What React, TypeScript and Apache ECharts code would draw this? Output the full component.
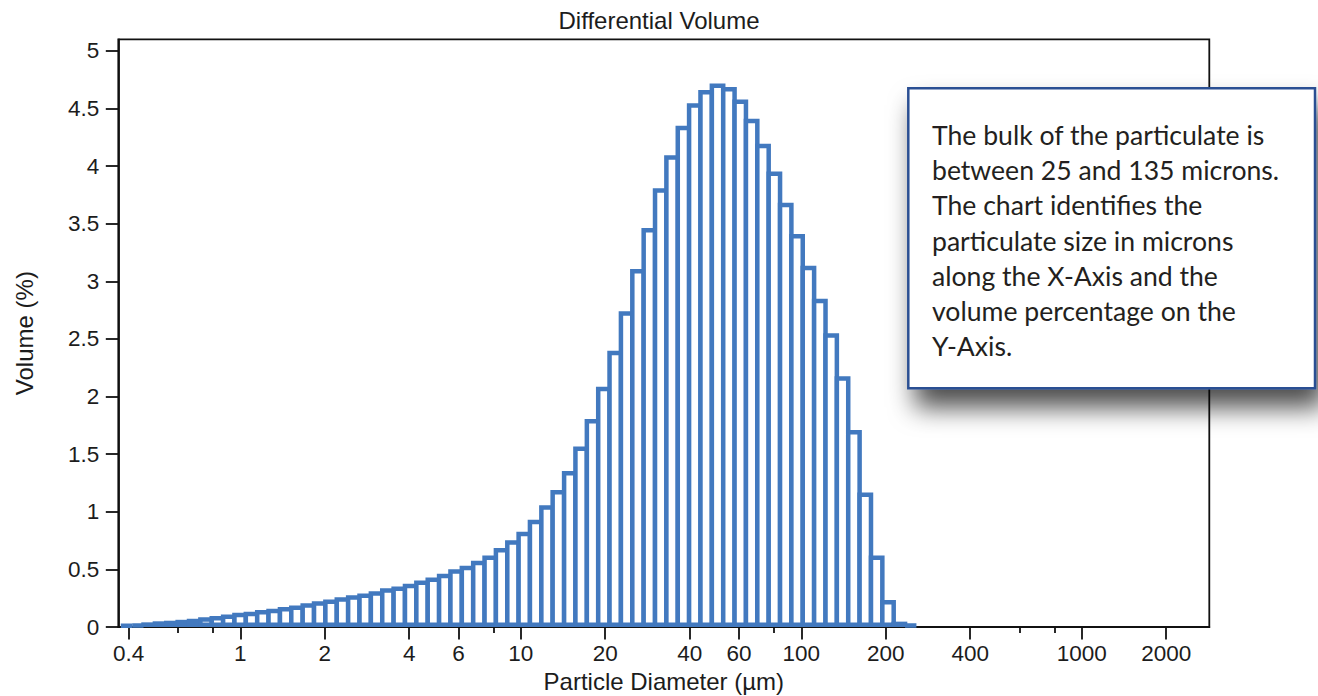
import React, { useEffect, useRef } from 'react';
import * as echarts from 'echarts';

const TITLE = 'Differential Volume';
const X_NAME = 'Particle Diameter (µm)';
const Y_NAME = 'Volume (%)';

// channel edges (µm)
const BIN_EDGES = [
  0.375, 0.4117, 0.4519, 0.4962, 0.5447, 0.598, 0.6565, 0.7207, 0.7912, 0.8686,
  0.9533, 1.0465, 1.149, 1.261, 1.385, 1.52, 1.669, 1.832, 2.011, 2.208,
  2.424, 2.661, 2.921, 3.207, 3.521, 3.865, 4.243, 4.658, 5.114, 5.614,
  6.163, 6.766, 7.428, 8.152, 8.952, 9.823, 10.78, 11.84, 12.99, 14.27,
  15.66, 17.2, 18.88, 20.72, 22.75, 24.98, 27.42, 30.1, 33.04, 36.28,
  39.81, 43.71, 47.99, 52.68, 57.83, 63.49, 69.7, 76.52, 84.0, 92.19,
  101.2, 111.1, 122.0, 133.9, 147.0, 161.4, 177.2, 194.5, 213.5, 234.4,
  257.3,
];

// differential volume (%) per channel
const VOLUME = [
  0.01, 0.012, 0.021, 0.03, 0.035, 0.043, 0.052, 0.064, 0.076, 0.09,
  0.104, 0.113, 0.128, 0.139, 0.154, 0.168, 0.186, 0.203, 0.22, 0.238,
  0.255, 0.272, 0.29, 0.316, 0.333, 0.356, 0.385, 0.411, 0.443, 0.481,
  0.512, 0.556, 0.602, 0.666, 0.733, 0.807, 0.911, 1.036, 1.17, 1.334,
  1.546, 1.786, 2.066, 2.378, 2.72, 3.088, 3.443, 3.788, 4.075, 4.33,
  4.526, 4.641, 4.697, 4.666, 4.557, 4.392, 4.174, 3.934, 3.663, 3.39,
  3.115, 2.829, 2.53, 2.156, 1.689, 1.148, 0.602, 0.214, 0.027, 0.012,
];

const X_MAJOR_TICKS = [0.4, 1, 2, 4, 6, 10, 20, 40, 60, 100, 200, 400, 1000, 2000];
const X_MINOR_TICKS = [0.6, 0.8, 8, 80, 600, 800];
const Y_TICKS = [0, 0.5, 1, 1.5, 2, 2.5, 3, 3.5, 4, 4.5, 5];
const X_RANGE = [0.3674, 2848];
const Y_RANGE = [0, 5.1];

const NOTE_LINES = [
  'The bulk of the particulate is',
  'between 25 and 135 microns.',
  'The chart identifies the',
  'particulate size in microns',
  'along the X-Axis and the',
  'volume percentage on the',
  'Y-Axis.',
];

const BLUE = '#4279bf';
const INK = '#1c1c1c';
const SANS = "'Liberation Sans', Arial, sans-serif";

export default function App() {
  const ref = useRef<HTMLDivElement>(null);

  useEffect(() => {
    if (!ref.current) return;
    const chart = echarts.init(ref.current, null, { renderer: 'svg' });
    const lg = Math.log10;
    const bars = VOLUME.map((v, i) => [lg(BIN_EDGES[i]), lg(BIN_EDGES[i + 1]), v]);
    const xMin = lg(X_RANGE[0]);
    const xMax = lg(X_RANGE[1]);
    const fmtX = (v: number) => String(Number(Math.pow(10, v).toPrecision(2)));
    const LW = 4.5;

    chart.setOption({
      animation: false,
      title: {
        text: TITLE,
        left: 'center',
        top: 3,
        textStyle: { fontFamily: SANS, fontSize: 24, fontWeight: 'normal', color: INK },
      },
      grid: {
        left: 118.3,
        right: 108.7,
        top: 39.3,
        bottom: 69,
        show: true,
        borderColor: '#111',
        borderWidth: 1.8,
        backgroundColor: 'transparent',
        outerBoundsMode: 'none',
        containLabel: false,
      },
      xAxis: [
        {
          type: 'value',
          min: xMin,
          max: xMax,
          position: 'bottom',
          name: X_NAME,
          nameLocation: 'middle',
          nameGap: 42,
          nameTextStyle: { fontFamily: SANS, fontSize: 24, color: INK },
          axisLine: { show: true, onZero: false, lineStyle: { color: '#111', width: 1.8 } },
          axisTick: {
            show: true,
            length: 12.5,
            lineStyle: { color: '#111', width: 1.8 },
            customValues: X_MAJOR_TICKS.map(lg),
          },
          axisLabel: {
            show: true,
            margin: 15,
            fontFamily: SANS,
            fontSize: 22.5,
            color: INK,
            customValues: X_MAJOR_TICKS.map(lg),
            formatter: (v: number) => fmtX(v),
          },
          splitLine: { show: false },
        },
        {
          type: 'value',
          min: xMin,
          max: xMax,
          position: 'bottom',
          axisLine: { show: false, onZero: false },
          axisTick: {
            show: true,
            length: 6,
            lineStyle: { color: '#111', width: 1.8 },
            customValues: X_MINOR_TICKS.map(lg),
          },
          axisLabel: { show: false },
          splitLine: { show: false },
        },
      ],
      yAxis: {
        type: 'value',
        min: Y_RANGE[0],
        max: Y_RANGE[1],
        position: 'left',
        name: Y_NAME,
        nameLocation: 'middle',
        nameGap: 82,
        nameTextStyle: { fontFamily: SANS, fontSize: 24, color: INK },
        axisLine: { show: true, onZero: false, lineStyle: { color: '#111', width: 1.8 } },
        axisTick: {
          show: true,
          length: 12.5,
          lineStyle: { color: '#111', width: 1.8 },
          customValues: Y_TICKS,
        },
        axisLabel: {
          show: true,
          margin: 19,
          fontFamily: SANS,
          fontSize: 22.5,
          color: INK,
          customValues: Y_TICKS,
          formatter: (v: number) => String(v),
        },
        splitLine: { show: false },
      },
      series: [
        {
          type: 'custom',
          xAxisIndex: 0,
          yAxisIndex: 0,
          z: 3,
          clip: false,
          encode: { x: [0, 1], y: 2 },
          data: bars,
          renderItem: (params: any, api: any) => {
            const p0 = api.coord([api.value(0), api.value(2)]);
            const p1 = api.coord([api.value(1), 0]);
            const h = Math.max(p1[1] - LW / 2 - p0[1], 0);
            return {
              type: 'rect',
              shape: { x: p0[0], y: p0[1], width: p1[0] - p0[0], height: h },
              style: { fill: '#ffffff', stroke: BLUE, lineWidth: LW },
            };
          },
        },
      ],
      graphic: [
        {
          type: 'group',
          z: 100,
          children: [
            {
              type: 'rect',
              z: 100,
              shape: { x: 908.3, y: 88.3, width: 406.7, height: 300 },
              style: {
                fill: '#ffffff',
                stroke: '#2b4f93',
                lineWidth: 2.5,
                shadowBlur: 26,
                shadowOffsetX: 8,
                shadowOffsetY: 18,
                shadowColor: 'rgba(0,0,0,0.7)',
              },
            },
            {
              type: 'text',
              z: 101,
              x: 932,
              y: 117,
              style: {
                text: NOTE_LINES.join('\n'),
                fontFamily: 'Lato, sans-serif',
                fontSize: 26.6,
                fill: '#231f20',
                lineHeight: 35.3,
                align: 'left',
                verticalAlign: 'top',
              },
            },
          ],
        },
      ],
    });

    return () => chart.dispose();
  }, []);

  return (
    <div
      ref={ref}
      style={{ position: 'absolute', left: 0, top: 0, width: 1318, height: 696 }}
    />
  );
}
